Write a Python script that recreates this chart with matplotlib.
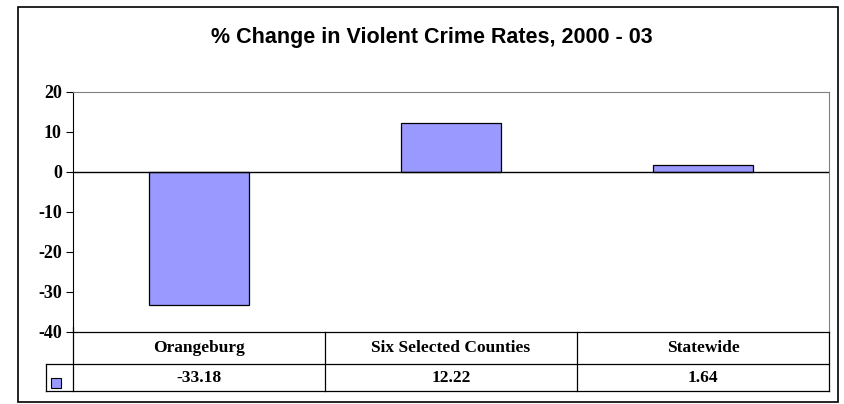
import matplotlib.pyplot as plt
from matplotlib.patches import Rectangle
from matplotlib.transforms import blended_transform_factory

categories = ['Orangeburg', 'Six Selected Counties', 'Statewide']
values = [-33.18, 12.22, 1.64]
value_labels = ['-33.18', '12.22', '1.64']
yticks = [-40, -30, -20, -10, 0, 10, 20]

W, H = 844, 404
bar_color = '#9999FF'
serif = 'Liberation Serif'
sans = 'Liberation Sans'

fig = plt.figure(figsize=(W / 100, H / 100), dpi=100)

# outer chart frame
fig.patches.append(Rectangle((18 / W, 1 - 402 / H), (838 - 18) / W, (402 - 7) / H,
                             transform=fig.transFigure, fill=False,
                             edgecolor='black', linewidth=1.2))

# plot area
left, right, top, bottom = 73, 829, 92, 332
ax = fig.add_axes([left / W, 1 - bottom / H, (right - left) / W, (bottom - top) / H])
x = list(range(len(categories)))
ax.bar(x, values, width=0.395, color=bar_color, edgecolor='black', linewidth=0.9, zorder=3)
ax.axhline(0, color='black', linewidth=1.0, zorder=4)
ax.set_xlim(-0.5, len(categories) - 0.5)
ax.set_ylim(-40, 20)
ax.set_yticks(yticks)
ax.set_yticklabels([str(t) for t in yticks], fontfamily=serif, fontweight='bold', fontsize=13)
ax.tick_params(axis='y', length=5, width=0.8, pad=3)
ax.set_xticks([])
for side in ['top', 'right']:
    ax.spines[side].set_color('#808080')
    ax.spines[side].set_linewidth(0.8)
ax.spines['left'].set_color('black')
ax.spines['left'].set_linewidth(0.8)
ax.spines['bottom'].set_visible(False)

fig.text(432 / W, 1 - 38 / H, '% Change in Violent Crime Rates, 2000 - 03',
         ha='center', va='center', fontfamily=sans, fontweight='bold', fontsize=15.5)

# data table below the plot area
tr = blended_transform_factory(ax.transData, fig.transFigure)
row1, row2, row3 = 332, 364, 391
fy = lambda p: 1 - p / H
lw = 0.9
n = len(categories)
ax_l, ax_r = -0.5, n - 0.5
leg_l = -0.5 - 27 / ((right - left) / n)

def hline(x0, x1, yp):
    fig.add_artist(plt.Line2D([x0, x1], [fy(yp), fy(yp)], transform=tr, color='black', linewidth=lw))

def vline(xv, y0, y1):
    fig.add_artist(plt.Line2D([xv, xv], [fy(y0), fy(y1)], transform=tr, color='black', linewidth=lw))

hline(ax_l, ax_r, row1)
hline(leg_l, ax_r, row2)
hline(leg_l, ax_r, row3)
vline(ax_l, row1 - 5, row3)
vline(leg_l, row2, row3)
vline(ax_r, row1, row3)
for i in range(1, n):
    vline(i - 0.5, row1, row3)

for i, (cat, lab) in enumerate(zip(categories, value_labels)):
    fig.text(i, fy((row1 + row2) / 2), cat, transform=tr, ha='center', va='center',
             fontfamily=serif, fontweight='bold', fontsize=12.5)
    fig.text(i, fy((row2 + row3) / 2 + 1), lab, transform=tr, ha='center', va='center',
             fontfamily=serif, fontweight='bold', fontsize=12.5)

# legend key in the table
fig.patches.append(Rectangle((51 / W, fy(388)), 10 / W, 10 / H, transform=fig.transFigure,
                             facecolor=bar_color, edgecolor='black', linewidth=0.8))

fig.savefig('out.png', dpi=100)
